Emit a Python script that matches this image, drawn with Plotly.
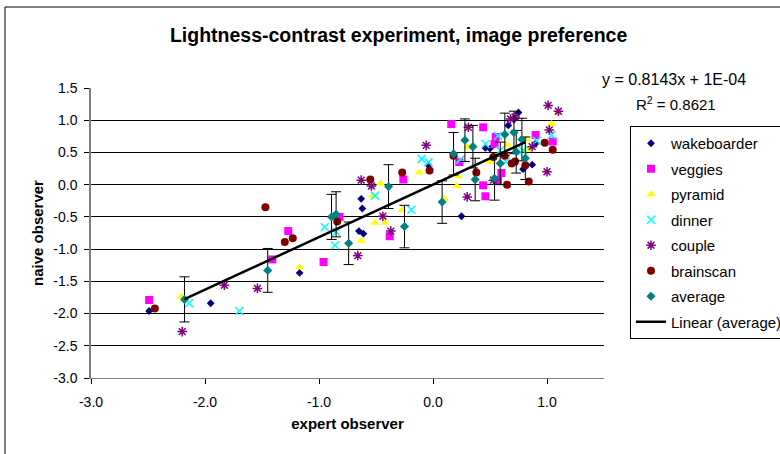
import plotly.graph_objects as go

# ---------------- data ----------------
wake_x = [-2.49, -1.95, -1.17, -0.65, -0.63, -0.62, -0.61, -0.04, 0.25, 0.46, 0.50, 0.66, 0.71, 0.75, 0.79, 0.87, 0.90]
wake_y = [-1.96, -1.84, -1.37, -0.72, -0.22, -0.37, -0.76, 0.30, -0.49, 0.57, 0.56, 0.92, 1.01, 1.12, 0.24, 0.31, 0.64]

veg_x = [-2.49, -1.41, -1.27, -0.96, -0.82, -0.38, -0.26, 0.16, 0.23, 0.44, 0.44, 0.46, 0.54, 0.55, 0.57, 0.60, 0.90, 1.05]
veg_y = [-1.79, -1.16, -0.72, -1.20, -0.50, -0.80, 0.08, 0.94, 0.35, 0.89, -0.01, -0.18, 0.63, 0.74, 0.07, 0.18, 0.77, 0.67]

pyr_x = [-2.21, -1.17, -0.63, -0.53, -0.51, -0.46, -0.42, -0.27, -0.12, 0.10, 0.21, 0.22, 0.30, 0.50, 0.65, 0.82, 0.83, 1.04, 1.10]
pyr_y = [-1.74, -1.28, -0.87, -0.17, -0.59, 0.02, -0.59, -0.39, 0.19, -0.22, -0.02, 0.13, 0.58, 0.35, 0.62, 0.70, 0.54, 0.94, 1.12]

din_x = [-2.14, -1.70, -0.95, -0.86, -0.85, -0.51, -0.19, -0.10, -0.04, 0.24, 0.46, 0.57, 0.59, 0.64, 0.79, 0.91, 1.04]
din_y = [-1.84, -1.96, -0.66, -0.94, -0.73, -0.17, -0.39, 0.40, 0.35, 0.39, 0.63, 0.76, 0.53, 0.36, 0.53, 0.68, 0.77]

cou_x = [-2.20, -1.83, -1.54, -0.66, -0.63, -0.54, -0.44, -0.37, -0.06, 0.30, 0.31, 0.53, 0.68, 0.72, 0.87, 1.00, 1.01, 1.02, 1.10]
cou_y = [-2.28, -1.56, -1.61, -1.10, 0.07, -0.02, -0.49, -0.72, 0.61, -0.19, 0.89, 0.07, 1.02, 1.05, 0.59, 0.20, 1.23, 0.85, 1.14]

bra_x = [-2.44, -1.47, -1.30, -1.23, -0.84, -0.55, -0.27, -0.03, 0.18, 0.38, 0.53, 0.63, 0.65, 0.69, 0.72, 0.81, 0.84, 0.98, 1.05]
bra_y = [-1.92, -0.35, -0.89, -0.83, -0.57, 0.08, 0.19, 0.22, 0.45, 0.19, 0.43, 0.45, 0.00, 0.33, 0.36, 0.30, 0.05, 0.65, 0.54]

avg_x = [-2.18, -1.45, -0.89, -0.85, -0.74, -0.39, -0.25, 0.08, 0.18, 0.28, 0.35, 0.37, 0.54, 0.59, 0.63, 0.71, 0.73, 0.78, 0.81]
avg_y = [-1.78, -1.33, -0.50, -0.46, -0.91, -0.03, -0.65, -0.27, 0.48, 0.69, 0.59, 0.08, 0.10, 0.33, 0.78, 0.81, 0.51, 0.70, 0.41]
avg_err = [0.35, 0.34, 0.35, 0.35, 0.33, 0.34, 0.33, 0.33, 0.33, 0.33, 0.33, 0.33, 0.34, 0.33, 0.33, 0.33, 0.33, 0.33, 0.33]

trend_slope = 0.8143
trend_intercept = 0.0001
trend_r2 = 0.8621

x_tick_vals = [-3, -2, -1, 0, 1]
x_tick_labels = ["-3.0", "-2.0", "-1.0", "0.0", "1.0"]
y_tick_vals = [1.5, 1.0, 0.5, 0.0, -0.5, -1.0, -1.5, -2.0, -2.5, -3.0]
y_tick_labels = ["1.5", "1.0", "0.5", "0.0", "-0.5", "-1.0", "-1.5", "-2.0", "-2.5", "-3.0"]

# ---------------- figure ----------------
FONT = "Arial, Liberation Sans, sans-serif"
fig = go.Figure()

def add_series(name, xs, ys, symbol, color, size, line_w=0, **kw):
    marker = dict(symbol=symbol, size=size, color=color)
    if line_w:
        marker["line"] = dict(color=color, width=line_w)
    else:
        marker["line"] = dict(width=0)
    fig.add_trace(go.Scatter(x=xs, y=ys, mode="markers", name=name, marker=marker,
                             legendgroup=name, **kw))

add_series("wakeboarder", wake_x, wake_y, "diamond", "#000080", 6)
add_series("veggies", veg_x, veg_y, "square", "#FF00FF", 8)
add_series("pyramid", pyr_x, pyr_y, "triangle-up", "#FFFF00", 8)
add_series("dinner", din_x, din_y, "x-thin-open", "#00FFFF", 8, 1.5)
add_series("couple", cou_x, cou_y, "asterisk-open", "#800080", 8, 1.5)
add_series("brainscan", bra_x, bra_y, "circle", "#800000", 8)
add_series("average", avg_x, avg_y, "diamond", "#008080", 7,
           error_y=dict(type="data", array=avg_err, visible=True, color="#000000",
                        thickness=1, width=5))

tx = [min(avg_x), max(avg_x)]
ty = [trend_slope * v + trend_intercept for v in tx]
fig.add_trace(go.Scatter(x=tx, y=ty, mode="lines", name="Linear (average)",
                         line=dict(color="#000000", width=2.5), legendgroup="lin"))

fig.update_layout(
    width=780, height=454,
    margin=dict(l=91, r=176, t=88, b=76, autoexpand=False),
    paper_bgcolor="white", plot_bgcolor="white",
    font=dict(family=FONT, color="#000000", size=14),
    title=dict(text="<b>Lightness-contrast experiment, image preference</b>",
               x=0.511, xref="container", xanchor="center",
               y=1 - 35 / 454, yref="container", yanchor="middle",
               font=dict(size=19.5, family=FONT, color="#000000")),
    showlegend=True,
    legend=dict(x=(630 - 91) / 513, xanchor="left", y=(378 - 126) / 290, yanchor="top",
                bgcolor="white", bordercolor="#000000", borderwidth=1,
                font=dict(size=15, family=FONT, color="#000000"),
                traceorder="grouped", tracegroupgap=3),
    xaxis=dict(range=[-3, 1.5], tickvals=x_tick_vals, ticktext=x_tick_labels,
               showgrid=False, zeroline=False,
               showline=True, linecolor="#808080", linewidth=1,
               ticks="outside", ticklen=5, tickcolor="#000000",
               ticklabelstandoff=6,
               tickfont=dict(size=14),
               title=dict(text="<b>expert observer</b>", font=dict(size=15), standoff=9)),
    yaxis=dict(range=[-3, 1.5], tickvals=y_tick_vals, ticktext=y_tick_labels,
               showgrid=True, gridcolor="#000000", gridwidth=1, zeroline=False,
               showline=True, linecolor="#808080", linewidth=1.5,
               ticks="outside", ticklen=5, tickcolor="#000000",
               ticklabelstandoff=4,
               tickfont=dict(size=14),
               title=dict(text="<b>naive observer</b>", font=dict(size=15), standoff=6)),
)

fig.add_annotation(text="y = 0.8143x + 1E-04", xref="paper", yref="paper",
                   x=(600 - 91) / 513, y=(378 - 80) / 290, xanchor="left", yanchor="middle",
                   showarrow=False, font=dict(size=16))
fig.add_annotation(text="R<sup>2</sup> = %.4f" % trend_r2, xref="paper", yref="paper",
                   x=(634 - 91) / 513, y=(378 - 103) / 290, xanchor="left", yanchor="middle",
                   showarrow=False, font=dict(size=15))

# outer chart-area border (top and left visible)
fig.add_shape(type="rect", xref="paper", yref="paper",
              x0=(5 - 91) / 513, x1=(800 - 91) / 513,
              y0=(378 - 480) / 290, y1=(378 - 7) / 290,
              line=dict(color="#000000", width=1), fillcolor="rgba(0,0,0,0)", layer="below")

fig.write_html("out.html", config={"displayModeBar": False},
               post_script="document.body.style.margin='0';document.body.style.overflow='hidden';")
